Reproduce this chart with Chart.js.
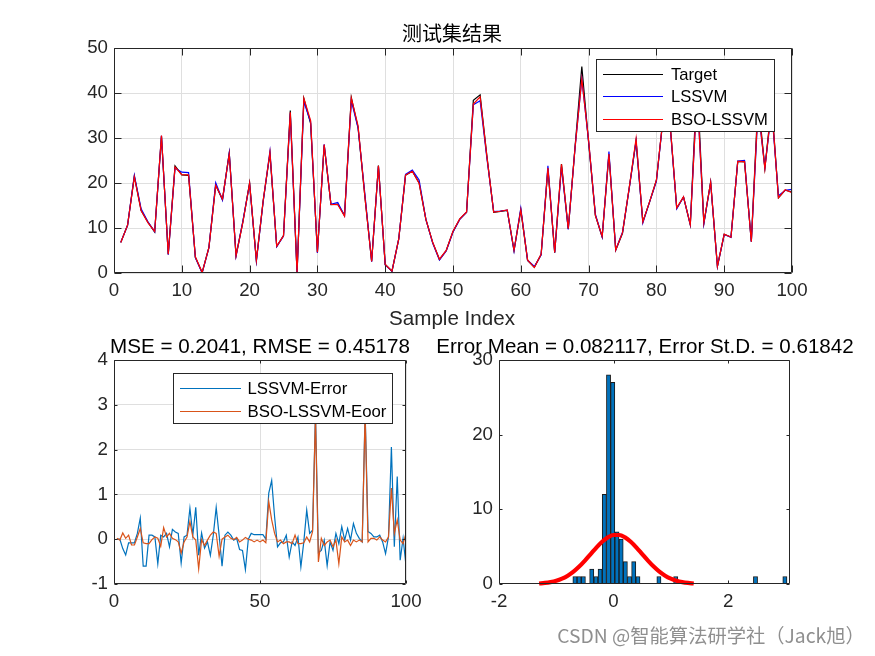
<!DOCTYPE html>
<html><head><meta charset="utf-8">
<script src="https://cdn.jsdelivr.net/npm/chart.js@4/dist/chart.umd.min.js"></script>
<style>
html,body{margin:0;padding:0;background:#fff;}
#wrap{position:relative;width:875px;height:656px;overflow:hidden;background:#fff;}
canvas{position:absolute;left:0;top:0;}
.t{position:absolute;white-space:nowrap;font-family:"Liberation Sans",Arial,sans-serif;transform:translate(-50%,-50%);line-height:1;}
</style></head><body>
<div id="wrap">
<canvas id="c1" width="875" height="656"></canvas>
<canvas id="c2" width="875" height="656"></canvas>
<canvas id="c3" width="875" height="656"></canvas>
<div class="t" style="left:452px;top:33px;font-family:'Noto Sans CJK SC';font-size:20px;color:#000">测试集结果</div>
<div class="t" style="left:452px;top:318px;font-size:20.6px;color:#262626">Sample Index</div>
<div class="t" style="left:260px;top:346px;font-size:20.6px;color:#000">MSE = 0.2041, RMSE = 0.45178</div>
<div class="t" style="left:645px;top:346px;font-size:20.6px;color:#000">Error Mean = 0.082117, Error St.D. = 0.61842</div>
<div class="t" style="left:711px;top:636px;font-family:'Noto Sans CJK SC';font-size:19.3px;color:#8f8f8f">CSDN @智能算法研学社（Jack旭）</div>
</div>
<script>
// ---------------- data ----------------
const sampleIndex = Array.from({length: 100}, (_, k) => k + 1);

const target = [
 6.8,10.6,21.5,13.9,11.3,9.1,30.4,4.2,23.8,21.8,
 21.7,3.5,0.1,5.7,19.5,16.3,26.7,3.9,11.3,20.0,
 2.8,16.0,26.5,5.9,8.3,36.1,0.1,38.8,33.2,4.6,
 28.4,15.2,15.3,12.8,39.0,32.3,17.0,2.6,23.9,1.9,
 0.4,7.6,21.7,22.6,20.0,11.9,6.8,3.0,5.0,9.2,
 12.0,13.5,38.4,39.6,26.0,13.5,13.7,13.9,5.0,14.0,
 2.8,1.3,4.1,23.2,4.5,24.2,9.8,28.0,45.9,29.0,
 12.8,8.0,26.4,5.1,8.8,19.0,29.3,11.4,15.8,20.6,
 34.6,33.5,14.4,16.9,10.7,43.0,11.1,20.2,1.5,8.6,
 8.0,24.8,24.7,7.0,38.5,23.3,37.7,16.7,18.4,18.0];

const lssvmPred = [
 6.80,10.60,21.71,14.25,11.38,9.18,30.48,4.07,23.33,22.40,
 22.30,3.41,0.01,5.65,20.05,16.21,26.65,3.77,11.47,19.78,
 2.64,15.87,27.03,5.85,8.21,35.41,0.01,38.09,33.56,4.46,
 28.60,15.26,15.66,12.71,38.29,32.21,17.60,2.51,23.74,1.81,
 0.42,7.58,21.93,22.85,20.68,11.90,6.67,2.90,4.90,9.10,
 11.90,13.50,37.37,38.29,25.50,13.67,13.78,13.96,4.91,14.40,
 2.86,1.44,4.05,23.82,4.56,23.55,9.67,27.80,43.10,29.30,
 13.05,8.02,26.99,5.16,9.05,18.87,29.40,11.12,15.82,20.36,
 34.62,33.15,14.27,16.88,10.76,40.15,10.93,20.07,1.45,8.55,
 7.91,24.86,25.02,6.95,36.44,23.47,36.30,17.17,18.38,18.59];

const bsoPred = [
 6.78,10.62,21.36,13.88,11.21,9.23,30.53,4.15,23.56,21.88,
 21.80,3.60,0.11,5.65,19.48,16.46,26.44,3.85,11.17,19.98,
 2.81,16.06,26.81,5.96,8.25,35.71,0.05,38.82,33.86,4.61,
 28.54,15.22,15.21,12.64,38.87,32.68,17.00,2.55,23.81,1.88,
 0.41,7.56,21.76,22.62,19.96,11.90,6.82,3.06,5.02,9.26,
 12.02,13.58,37.56,39.17,25.87,13.56,13.72,14.00,5.06,14.06,
 2.90,1.21,4.20,23.30,4.58,24.15,9.86,27.83,43.15,29.51,
 12.78,8.14,26.46,5.12,8.97,19.02,29.85,11.35,15.86,20.62,
 34.74,33.52,14.46,16.92,10.76,40.20,11.16,20.18,1.48,8.62,
 7.95,24.82,24.76,6.95,37.36,23.17,37.27,16.72,18.50,17.87];

const lssvmError = [
 0.00,0.00,-0.21,-0.35,-0.08,-0.08,-0.08,0.13,0.47,-0.60,
 -0.60,0.09,0.09,0.05,-0.55,0.09,0.05,0.13,-0.17,0.22,
 0.16,0.13,-0.53,0.05,0.09,0.69,0.09,0.71,-0.36,0.14,
 -0.20,-0.06,-0.36,0.09,0.71,0.09,-0.60,0.09,0.16,0.09,
 -0.02,0.02,-0.23,-0.25,-0.68,0.00,0.13,0.10,0.10,0.10,
 0.10,0.00,1.03,1.31,0.50,-0.17,-0.08,-0.06,0.09,-0.40,
 -0.06,-0.14,0.05,-0.62,-0.06,0.65,0.13,0.20,2.80,-0.30,
 -0.25,-0.02,-0.59,-0.06,-0.25,0.13,-0.10,0.28,-0.02,0.24,
 -0.02,0.35,0.13,0.02,-0.06,2.85,0.17,0.13,0.05,0.05,
 0.09,-0.06,-0.32,0.05,2.06,-0.17,1.40,-0.47,0.02,-0.59];

const bsoError = [
 0.02,-0.02,0.14,0.02,0.09,-0.13,-0.13,0.05,0.24,-0.08,
 -0.10,-0.10,-0.01,0.05,0.02,-0.16,0.26,0.05,0.13,0.02,
 -0.01,-0.06,-0.31,-0.06,0.05,0.39,0.05,-0.02,-0.66,-0.01,
 -0.14,-0.02,0.09,0.16,0.13,-0.38,0.00,0.05,0.09,0.02,
 -0.01,0.04,-0.06,-0.02,0.04,0.00,-0.02,-0.06,-0.02,-0.06,
 -0.02,-0.08,0.84,0.43,0.13,-0.06,-0.02,-0.10,-0.06,-0.06,
 -0.10,0.09,-0.10,-0.10,-0.08,0.05,-0.06,0.17,2.75,-0.51,
 0.02,-0.14,-0.06,-0.02,-0.17,-0.02,-0.55,0.05,-0.06,-0.02,
 -0.14,-0.02,-0.06,-0.02,-0.06,2.80,-0.06,0.02,0.02,-0.02,
 0.05,-0.02,-0.06,0.05,1.14,0.13,0.43,-0.02,-0.10,0.13];

// histogram: 51 equal bins starting at histStart
const histStart = -0.711;
const histBinWidth = 0.0733;
const histCounts = [
 1,1,1,0,2,1,2,12,28,27,
 7,6,3,1,3,1,0,0,0,0,
 1,0,0,0,1,0,0,0,0,0,
 0,0,0,0,0,0,0,0,0,0,
 0,0,0,1,0,0,0,0,0,0,
 1];

// fitted normal curve
const curveX = [-1.3,-1.2,-1.1,-1.0,-0.9,-0.8,-0.7,-0.6,-0.5,-0.4,-0.3,-0.2,-0.1,0.0,
                 0.1,0.2,0.3,0.4,0.5,0.6,0.7,0.8,0.9,1.0,1.1,1.2,1.3,1.4];
const curveY = [0.07,0.14,0.25,0.43,0.71,1.11,1.65,2.33,3.13,4.00,4.88,5.66,6.24,6.56,
                 6.56,6.24,5.66,4.88,4.00,3.13,2.33,1.65,1.11,0.71,0.43,0.25,0.14,0.07];

// tick values
const topXTicks = [0,10,20,30,40,50,60,70,80,90,100];
const topYTicks = [0,10,20,30,40,50];
const errXTicks = [0,50,100];
const errYTicks = [-1,0,1,2,3,4];
const histXTicks = [-2,0,2];
const histYTicks = [0,10,20,30];

// ---------------- drawing ----------------
const FONT = "'Liberation Sans', Arial, Helvetica, sans-serif";
const AXIS = '#262626';
const GRID = '#dfdfdf';

function fixedTicks(values) { return function (scale) { scale.ticks = values.map(v => ({value: v})); }; }

const boxPlugin = {
  id: 'matlabBox',
  afterDatasetsDraw(chart, args, opts) {
    const ctx = chart.ctx, a = chart.chartArea;
    const xs = chart.scales.x, ys = chart.scales.y;
    ctx.save();
    ctx.strokeStyle = AXIS; ctx.lineWidth = 1;
    const L = a.left + 0.5, R = a.right - 0.5, T = a.top + 0.5, B = a.bottom - 0.5;
    const tl = opts.tickLen;
    ctx.beginPath();
    ctx.rect(L, T, R - L, B - T);
    xs.ticks.forEach(t => {
      const px = Math.round(xs.getPixelForValue(t.value)) + 0.5;
      ctx.moveTo(px, B); ctx.lineTo(px, B - tl);
      ctx.moveTo(px, T); ctx.lineTo(px, T + tl);
    });
    ys.ticks.forEach(t => {
      const py = Math.round(ys.getPixelForValue(t.value)) + 0.5;
      ctx.moveTo(L, py); ctx.lineTo(L + tl, py);
      ctx.moveTo(R, py); ctx.lineTo(R - tl, py);
    });
    ctx.stroke();
    const lg = opts.legend;
    if (lg) {
      ctx.fillStyle = '#fff';
      ctx.fillRect(lg.left, lg.top, lg.right - lg.left, lg.bottom - lg.top);
      ctx.strokeStyle = AXIS; ctx.lineWidth = 1;
      ctx.strokeRect(lg.left + 0.5, lg.top + 0.5, lg.right - lg.left - 1, lg.bottom - lg.top - 1);
      ctx.font = lg.fontSize + 'px ' + FONT;
      ctx.textBaseline = 'middle'; ctx.textAlign = 'left';
      chart.data.datasets.forEach((ds, i) => {
        const y = lg.rowY[i];
        ctx.strokeStyle = ds.borderColor; ctx.lineWidth = 1;
        ctx.beginPath(); ctx.moveTo(lg.lineX1, y); ctx.lineTo(lg.lineX2, y); ctx.stroke();
        ctx.fillStyle = '#000';
        ctx.fillText(ds.label, lg.textX, y + 1);
      });
    }
    ctx.restore();
  }
};

function axisOpts(min, max, ticks, isX, pad) {
  const o = {
    type: 'linear', min: min, max: max,
    afterBuildTicks: fixedTicks(ticks),
    grid: {color: GRID, drawTicks: false, lineWidth: 1},
    border: {display: false},
    ticks: {font: {family: FONT, size: 18.7}, color: AXIS, padding: pad, maxRotation: 0, autoSkip: false}
  };
  if (isX) o.afterFit = s => { s.height = 30; }; else o.afterFit = s => { s.width = 40; };
  return o;
}

const common = {responsive: false, animation: false, devicePixelRatio: 1, events: []};

// top chart
new Chart(document.getElementById('c1'), {
  type: 'line',
  data: {datasets: [
    {label: 'Target', data: sampleIndex.map((x, k) => ({x: x, y: target[k]})), borderColor: '#000000', order: 2},
    {label: 'LSSVM', data: sampleIndex.map((x, k) => ({x: x, y: lssvmPred[k]})), borderColor: '#0000ff', order: 1},
    {label: 'BSO-LSSVM', data: sampleIndex.map((x, k) => ({x: x, y: bsoPred[k]})), borderColor: '#ff0000', order: 0}
  ]},
  options: Object.assign({}, common, {
    elements: {point: {radius: 0}, line: {borderWidth: 1.2, tension: 0}},
    layout: {padding: {left: 74, right: 83, top: 48, bottom: 353}},
    plugins: {legend: {display: false}, tooltip: {enabled: false},
      matlabBox: {tickLen: 7, legend: {left: 596, top: 59, right: 775, bottom: 132,
        lineX1: 603, lineX2: 663, textX: 671, rowY: [74.5, 96.5, 119.5], fontSize: 16.6}}},
    scales: {x: axisOpts(0, 100, topXTicks, true, 7), y: axisOpts(0, 50, topYTicks, false, 6)}
  }),
  plugins: [boxPlugin]
});

// error chart
new Chart(document.getElementById('c2'), {
  type: 'line',
  data: {datasets: [
    {label: 'LSSVM-Error', data: sampleIndex.map((x, k) => ({x: x, y: lssvmError[k]})), borderColor: '#0072BD', order: 1},
    {label: 'BSO-LSSVM-Eoor', data: sampleIndex.map((x, k) => ({x: x, y: bsoError[k]})), borderColor: '#D95319', order: 0}
  ]},
  options: Object.assign({}, common, {
    elements: {point: {radius: 0}, line: {borderWidth: 1.2, tension: 0}},
    layout: {padding: {left: 74, right: 469, top: 360, bottom: 42}},
    plugins: {legend: {display: false}, tooltip: {enabled: false},
      matlabBox: {tickLen: 3, legend: {left: 173, top: 373, right: 393, bottom: 424,
        lineX1: 180, lineX2: 241, textX: 247.5, rowY: [388.5, 411.5], fontSize: 16.8}}},
    scales: {x: axisOpts(0, 100, errXTicks, true, 7), y: axisOpts(-1, 4, errYTicks, false, 6)}
  }),
  plugins: [boxPlugin]
});

// histogram
const hx = axisOpts(-2, 3.08, histXTicks, true, 7);
hx.offset = false; hx.grid = {display: false, offset: false, drawTicks: false};
const hy = axisOpts(0, 30, histYTicks, false, 6);
hy.grid = {display: false, drawTicks: false};
new Chart(document.getElementById('c3'), {
  type: 'bar',
  data: {datasets: [
    {type: 'line', label: 'fit', data: curveX.map((x, k) => ({x: x, y: curveY[k]})),
     borderColor: '#ff0000', borderWidth: 4.2, pointRadius: 0, cubicInterpolationMode: 'monotone', clip: false, order: 0},
    {type: 'bar', label: 'hist', data: histCounts.map((c, k) => ({x: histStart + histBinWidth * (k + 0.5), y: c === 0 ? null : c})),
     backgroundColor: '#0072BD', borderColor: '#1a1a1a', borderWidth: 1, barPercentage: 1, categoryPercentage: 1, order: 1}
  ]},
  options: Object.assign({}, common, {
    layout: {padding: {left: 459, right: 85, top: 360, bottom: 42}},
    plugins: {legend: {display: false}, tooltip: {enabled: false}, matlabBox: {tickLen: 3}},
    scales: {x: hx, y: hy}
  }),
  plugins: [boxPlugin]
});
</script>
</body></html>
